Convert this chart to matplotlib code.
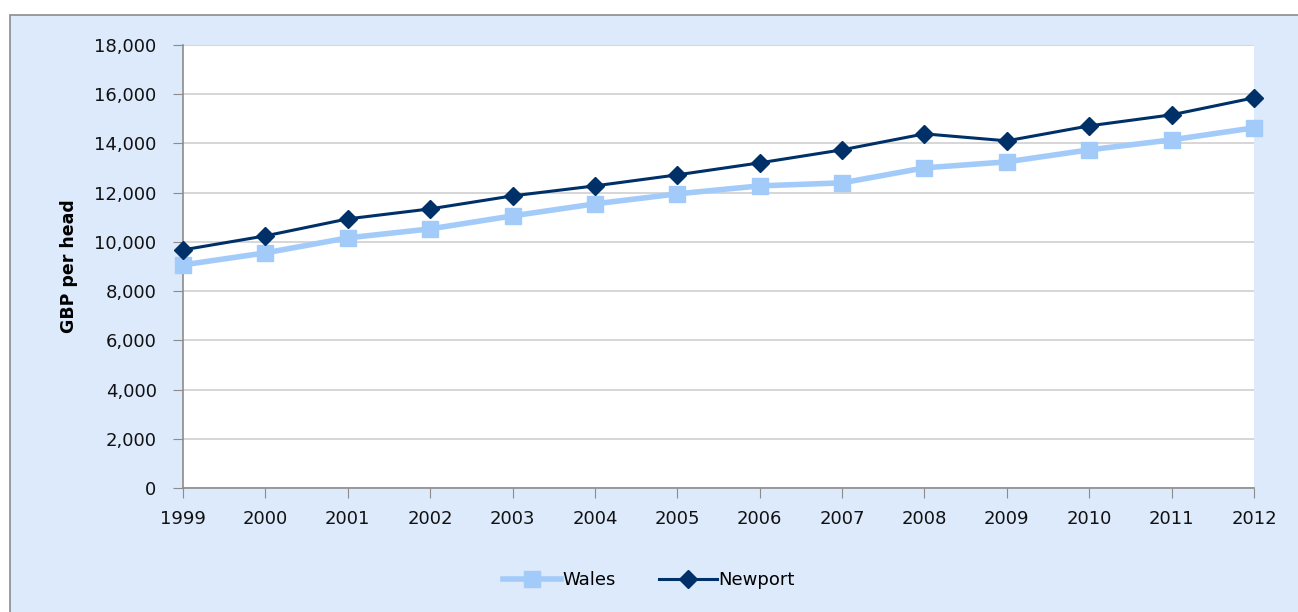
import matplotlib.pyplot as plt
from matplotlib.patches import Rectangle
from matplotlib.ticker import FuncFormatter

years = list(range(1999, 2013))
wales = [9065, 9553, 10163, 10528, 11057, 11545, 11951, 12276, 12398, 13008, 13252, 13740, 14146, 14634]
newport = [9675, 10244, 10935, 11341, 11870, 12276, 12724, 13211, 13740, 14390, 14106, 14715, 15163, 15854]

bg = '#dceafc'

fig = plt.figure(figsize=(12.98, 6.12), dpi=100)
fig.patch.set_facecolor('white')
# chart area panel with grey border, kept behind the axes
fig.patches.append(Rectangle((10 / 1298, -0.01), 1.0, (612 - 15) / 612 + 0.01,
                             transform=fig.transFigure, facecolor=bg,
                             edgecolor='#8c8c8c', linewidth=1.2, zorder=-10))

ax = fig.add_axes([183 / 1298, (612 - 488) / 612, (1254 - 183) / 1298, (488 - 45) / 612])
ax.set_zorder(1)
ax.set_facecolor('white')

ax.plot(years, wales, color='#a3cbfa', linewidth=4, marker='s', markersize=11,
        label='Wales', clip_on=False, zorder=3)
ax.plot(years, newport, color='#003068', linewidth=2.2, marker='D', markersize=9.5,
        label='Newport', clip_on=False, zorder=4)

ax.set_xlim(1999, 2012)
ax.set_ylim(0, 18000)
ax.set_xticks(years)
ax.set_yticks(range(0, 18001, 2000))
ax.yaxis.set_major_formatter(FuncFormatter(lambda v, p: f'{int(v):,}'))
ax.grid(axis='y', color='#d0d0d0', linewidth=1.2)
ax.set_axisbelow(True)

for s in ['top', 'right']:
    ax.spines[s].set_visible(False)
for s in ['left', 'bottom']:
    ax.spines[s].set_color('#8c8c8c')
    ax.spines[s].set_linewidth(1.2)
ax.tick_params(axis='both', direction='out', length=7, color='#8c8c8c',
               labelsize=13, labelcolor='#111111')
ax.tick_params(axis='x', pad=9)
ax.tick_params(axis='y', pad=12)

ax.set_ylabel('GBP per head', fontsize=12.5, fontweight='bold', labelpad=12)

leg = fig.legend(loc='center', bbox_to_anchor=(0.5, (612 - 580) / 612), ncol=2,
                 frameon=False, fontsize=13, handlelength=3.2, columnspacing=2.4,
                 handletextpad=0.1)

fig.savefig('out.png', dpi=100, facecolor=fig.get_facecolor())
